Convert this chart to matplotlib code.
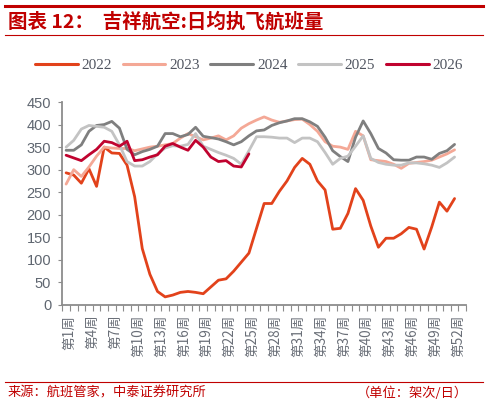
import matplotlib
matplotlib.use("Agg")
import matplotlib.pyplot as plt
from matplotlib.lines import Line2D
from matplotlib.transforms import ScaledTranslation
import numpy as np

plt.rcParams['font.family'] = ['Noto Sans CJK SC', 'DejaVu Sans']

weeks = list(range(1, 54))
week_labels = [f"第{w}周" for w in range(1, 54)]

y2022 = [293, 288, 270, 302, 263, 350, 337, 336, 310, 240, 125, 68, 30, 18, 22, 28, 30, 28, 25, 40,
         55, 58, 75, 95, 115, 170, 225, 225, 252, 275, 305, 325, 312, 275, 255, 168, 170, 203, 258, 232,
         175, 128, 148, 148, 158, 172, 168, 124, 173, 228, 208, 236]
y2023 = [268, 300, 285, 306, 330, 350, 348, 347, 347, 342, 346, 350, 352, 355, 358, 370, 380, 373, 366, 370,
         375, 366, 375, 392, 402, 410, 417, 410, 405, 408, 411, 412, 400, 385, 362, 352, 350, 345, 385, 375,
         322, 320, 318, 312, 303, 314, 316, 318, 321, 328, 335, 344]
y2024 = [343, 343, 355, 385, 398, 400, 407, 392, 345, 333, 340, 345, 352, 380, 380, 373, 378, 394, 374, 371,
         368, 362, 355, 362, 375, 386, 388, 398, 404, 408, 413, 413, 406, 396, 372, 342, 329, 318, 372, 408,
         380, 347, 337, 322, 321, 321, 328, 328, 323, 336, 342, 356]
y2025 = [350, 365, 390, 398, 396, 394, 385, 355, 318, 308, 308, 318, 335, 348, 353, 352, 356, 380, 352, 345,
         338, 332, 325, 312, 342, 373, 373, 372, 370, 370, 360, 370, 370, 362, 338, 312, 325, 330, 352, 375,
         325, 316, 312, 310, 310, 315, 315, 313, 310, 305, 315, 328]
y2026 = [332, 326, 320, 333, 345, 363, 360, 352, 363, 320, 322, 328, 333, 352, 358, 350, 343, 365, 350, 328,
         318, 320, 308, 306, 335]

series = [("2022", y2022, '#E2421B'),
          ("2023", y2023, '#F4A896'),
          ("2024", y2024, '#7F7F7F'),
          ("2025", y2025, '#C3C3C3'),
          ("2026", y2026, '#C0032F')]

yticks = list(range(0, 451, 50))

fig = plt.figure(figsize=(4.88, 4.05), dpi=100)
ax = fig.add_axes([62.3/488, 100/405, (466-62.3)/488, (305-102)/405])

for name, vals, col in series:
    ax.plot(weeks[:len(vals)], vals, color=col, lw=2.0, label=name,
            solid_joinstyle='round', solid_capstyle='round')

ax.set_xlim(0.5, 53.5)
ax.set_ylim(0, 450)
ax.set_yticks(yticks)
ax.set_yticklabels([str(v) for v in yticks], fontsize=10.5, color='#5F6670',
                   family=['Liberation Sans', 'DejaVu Sans'])
ax.tick_params(axis='y', length=3, width=0.8, color='#8C8C8C', pad=5)

lab_weeks = list(range(1, 53, 3))
ax.set_xticks(lab_weeks)
ax.set_xticklabels([week_labels[w-1] for w in lab_weeks], rotation=90,
                   fontsize=9.8, color='#6A6F78', va='top', ha='center')
ax.tick_params(axis='x', length=0, pad=7)
ax.set_xticks(np.arange(0.5, 54, 1), minor=True)
ax.tick_params(axis='x', which='minor', length=4, width=0.8, color='#8C8C8C')
off = ScaledTranslation(3.5/100, 0, fig.dpi_scale_trans)
for lab in ax.get_xticklabels():
    lab.set_transform(lab.get_transform() + off)

for s in ['top', 'right']:
    ax.spines[s].set_visible(False)
for s in ['left', 'bottom']:
    ax.spines[s].set_color('#8C8C8C')
    ax.spines[s].set_linewidth(1.3)

leg = fig.legend(loc='center', bbox_to_anchor=(249/488, 1-65/405), ncol=5, frameon=False,
                 handlelength=2.8, handletextpad=0.25, columnspacing=0.7,
                 prop={'family': ['Liberation Serif', 'DejaVu Serif'], 'size': 11})
for t in leg.get_texts():
    t.set_color('#505560')
for h in leg.legend_handles:
    h.set_linewidth(2.2)

red = '#C00000'
fig.text(8/488, 1-22/405, "图表 12：  吉祥航空:日均执飞航班量", fontsize=14, color=red,
         fontweight='bold', va='center', ha='left', style='italic')
fig.add_artist(Line2D([5/488, 483/488], [1-6/405, 1-6/405], color=red, lw=2.2, transform=fig.transFigure))
fig.add_artist(Line2D([5/488, 483/488], [1-35/405, 1-35/405], color=red, lw=0.8, transform=fig.transFigure))
fig.add_artist(Line2D([5/488, 483/488], [1-382/405, 1-382/405], color=red, lw=0.8, transform=fig.transFigure))
fig.text(8/488, 1-393/405, "来源：航班管家，中泰证券研究所", fontsize=9.5, color=red, va='center', ha='left')
fig.text(468/488, 1-393/405, "（单位：架次/日）", fontsize=9.5, color=red, va='center', ha='right')

fig.savefig("out.png", dpi=100)
